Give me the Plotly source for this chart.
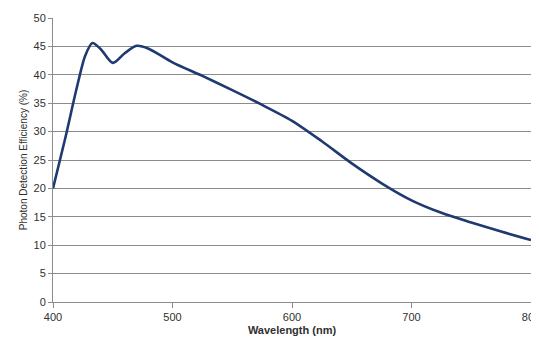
import plotly.graph_objects as go

wavelength = [400, 410, 420, 427, 433, 440, 450, 460, 470, 480, 500, 525, 550, 575,
              600, 625, 650, 675, 700, 725, 750, 775, 800]
pde = [20.0, 28.6, 37.8, 43.4, 45.6, 44.5, 42.1, 43.8, 45.1, 44.6, 42.2, 39.8, 37.3, 34.7,
       31.9, 28.3, 24.4, 20.9, 17.9, 15.7, 14.0, 12.4, 10.9]
x_ticks = [400, 500, 600, 700, 800]
y_ticks = [0, 5, 10, 15, 20, 25, 30, 35, 40, 45, 50]

fig = go.Figure()
fig.add_trace(go.Scatter(
    x=wavelength, y=pde, mode="lines",
    line=dict(color="#1f3a70", width=2.6, shape="spline", smoothing=0.8),
    showlegend=False, hoverinfo="skip", cliponaxis=False))

font = "Liberation Sans, Arial, sans-serif"
# page body has an 8px margin; the figure is offset by it and clipped by the window on the right
fig.update_layout(
    width=539, height=336,
    margin=dict(l=45, r=16, t=10, b=42),
    paper_bgcolor="white", plot_bgcolor="white",
    font=dict(family=font, size=11, color="#404040"),
)
fig.update_xaxes(
    range=[400, 800], tickvals=x_ticks, ticktext=[str(v) for v in x_ticks],
    automargin=False, ticklabeloverflow="allow",
    showgrid=False, showline=True, linecolor="#8c8c8c", linewidth=1,
    ticks="outside", ticklen=5, tickcolor="#8c8c8c",
    tickfont=dict(size=11, color="#303030"),
    title=dict(text="<b>Wavelength (nm)</b>", font=dict(size=11, color="#303030"), standoff=4),
    zeroline=False,
)
fig.update_yaxes(
    range=[0, 50], tickvals=y_ticks, automargin=False,
    showgrid=True, gridcolor="#8c8c8c", gridwidth=1,
    showline=True, linecolor="#8c8c8c", linewidth=1,
    ticks="outside", ticklen=4, tickcolor="#8c8c8c",
    tickfont=dict(size=11, color="#303030"),
    title=dict(text="Photon Detection Efficiency (%)", font=dict(size=10, color="#303030"), standoff=4),
    zeroline=False,
)

fig.write_html("out.html")
